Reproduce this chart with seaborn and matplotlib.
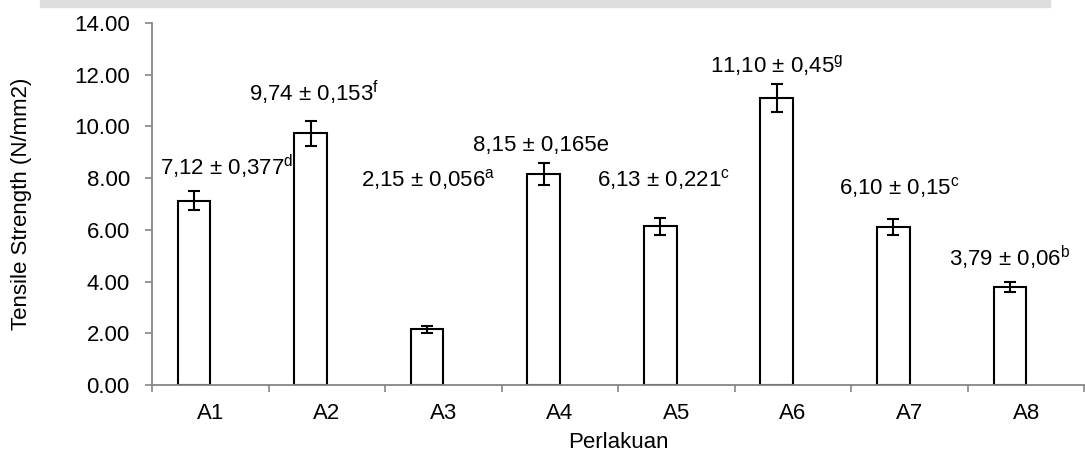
import pandas as pd
import numpy as np
import matplotlib
matplotlib.use("Agg")
import matplotlib.pyplot as plt
from matplotlib.patches import Rectangle
import seaborn as sns

# data
perlakuan = ["A1", "A2", "A3", "A4", "A5", "A6", "A7", "A8"]
tensile = [7.12, 9.74, 2.15, 8.15, 6.13, 11.10, 6.10, 3.79]
err_drawn = [0.37, 0.48, 0.12, 0.42, 0.32, 0.56, 0.31, 0.19]
label_text = ["7,12 ± 0,377", "9,74 ± 0,153", "2,15 ± 0,056", "8,15 ± 0,165e",
              "6,13 ± 0,221", "11,10 ± 0,45", "6,10 ± 0,15", "3,79 ± 0,06"]
letters = ["d", "f", "a", "", "c", "g", "c", "b"]

# layout for the annotations (data units)
label_y = [8.43, 11.30, 7.93, 9.28, 7.93, 12.37, 7.62, 4.91]
label_dx = [0.28, 0.03, 0.01, -0.02, 0.03, 0.0, 0.05, 0.0]

sns.set_style("white")
plt.rcParams['font.family'] = ['Liberation Sans', 'DejaVu Sans']
plt.rcParams['mathtext.fontset'] = 'custom'
plt.rcParams['mathtext.rm'] = 'Liberation Sans'
plt.rcParams['mathtext.it'] = 'Liberation Sans'
plt.rcParams['text.color'] = 'black'
plt.rcParams['axes.labelcolor'] = 'black'
plt.rcParams['xtick.labelcolor'] = 'black'
plt.rcParams['ytick.labelcolor'] = 'black'

FS = 16

df = pd.DataFrame({
    "Perlakuan": perlakuan * 2,
    "value": tensile + [np.nan] * len(perlakuan),
    "series": ["main"] * len(perlakuan) + ["blank"] * len(perlakuan),
})

fig = plt.figure(figsize=(10.85, 4.59), dpi=100)
ax = fig.add_axes([152 / 1085, 1 - 385 / 459, 1 - 152 / 1085 - 0.0005, (385 - 23) / 459])

# faint watermark band at the top of the page
fig.patches.append(Rectangle((40 / 1085, 1 - 7 / 459), 1010 / 1085, 7 / 459,
                             transform=fig.transFigure, color="#dedede", zorder=0))

sns.barplot(data=df, x="Perlakuan", y="value", hue="series", hue_order=["main", "blank"],
            order=perlakuan, palette={"main": "white", "blank": "white"},
            edgecolor="black", linewidth=1.5, width=0.56, dodge=True,
            errorbar=None, legend=False, ax=ax)

bars = ax.containers[0]
xs = [b.get_x() + b.get_width() / 2 for b in bars]
ax.errorbar(xs, tensile, yerr=err_drawn, fmt="none", ecolor="black",
            elinewidth=1.5, capsize=4, capthick=1.5, zorder=5)

for x, txt, let, y, dx in zip(xs, label_text, letters, label_y, label_dx):
    s = txt + (r"$^{\mathrm{%s}}$" % let if let else "")
    ax.text(x + dx, y, s, ha="center", va="center", fontsize=FS, color="black")

ax.set_ylim(0, 14)
ax.set_yticks(np.arange(0, 14.01, 2))
ax.set_yticklabels([f"{v:.2f}" for v in np.arange(0, 14.01, 2)])
ax.set_xlim(-0.5, len(perlakuan) - 0.5)
ax.set_xticks(np.arange(-0.5, len(perlakuan), 1.0), minor=True)

ax.set_xlabel("Perlakuan", fontsize=FS, labelpad=6)
ax.set_ylabel("Tensile Strength (N/mm2)", fontsize=FS, labelpad=30)

for side in ["top", "right"]:
    ax.spines[side].set_visible(False)
for side in ["left", "bottom"]:
    ax.spines[side].set_color("#868686")
    ax.spines[side].set_linewidth(1.3)

ax.tick_params(axis="y", which="major", direction="out", length=5, width=1.2,
               color="#868686", labelsize=FS, pad=11, left=True)
ax.tick_params(axis="x", which="major", length=0, labelsize=FS, pad=13)
ax.tick_params(axis="x", which="minor", direction="out", length=5, width=1.2,
               color="#868686", bottom=True)

fig.savefig("out.png", dpi=100)
